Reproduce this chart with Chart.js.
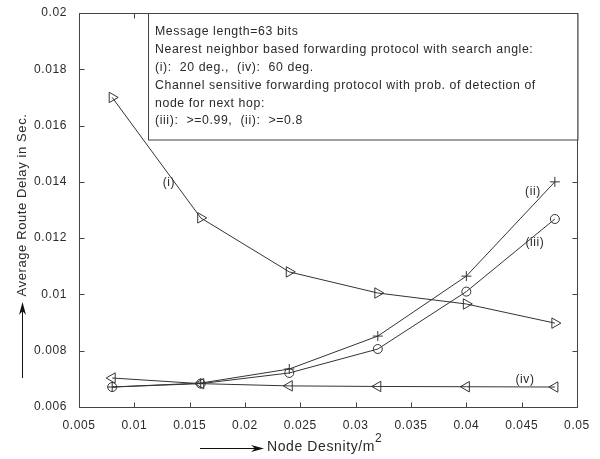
<!DOCTYPE html>
<html><head><meta charset="utf-8">
<script src="https://cdn.jsdelivr.net/npm/chart.js@4.4.0/dist/chart.umd.min.js"></script>
<style>html,body{margin:0;padding:0;background:#fff}canvas{display:block}</style>
</head><body>
<canvas id="c" width="600" height="459"></canvas>
<script>
// ---- data ----
const nodeDensity = [0.008, 0.016, 0.024, 0.032, 0.040, 0.048];
const delayNearest20 = [0.0170, 0.01272, 0.0108, 0.01005, 0.00966, 0.00898];   // (i)
const delayChannel08 = [0.00671, 0.00685, 0.00735, 0.00852, 0.01065, 0.01400]; // (ii)
const delayChannel099 = [0.00671, 0.00683, 0.00721, 0.00806, 0.01010, 0.01268]; // (iii)
const delayNearest60 = [0.00703, 0.00683, 0.00675, 0.00673, 0.00672, 0.00671]; // (iv)
const yTickLabels = ['0.006','0.008','0.01','0.012','0.014','0.016','0.018','0.02'];
const xTickLabels = ['0.005','0.01','0.015','0.02','0.025','0.03','0.035','0.04','0.045','0.05'];
const legendLines = [
  'Message length=63 bits',
  'Nearest neighbor based forwarding protocol with search angle:',
  '(i):  20 deg.,  (iv):  60 deg.',
  'Channel sensitive forwarding protocol with prob. of detection of',
  'node for next hop:',
  '(iii):  >=0.99,  (ii):  >=0.8'
];
const seriesTags = ['(i)', '(ii)', '(iii)', '(iv)'];
const tagAnchors = [[0.01313, 0.01396], [0.04602, 0.01364], [0.0462, 0.01183], [0.0453, 0.00696]];

const FONT = '"Liberation Sans", Arial, sans-serif';
const INK = '#2a2a2a';
const LINE = '#333';

function pts(ys){ return nodeDensity.map((x,i)=>({x:x, y:ys[i]})); }

const spacing = {
  id:'spacing',
  beforeDraw(chart){ chart.ctx.letterSpacing = '0.6px'; },
  beforeLayout(chart){ chart.ctx.letterSpacing = '0.6px'; }
};

const decor = {
  id:'decor',
  afterDatasetsDraw(chart){
    const ctx = chart.ctx, a = chart.chartArea, xs = chart.scales.x, ys = chart.scales.y;
    ctx.save();
    ctx.letterSpacing = '0.6px';
    // frame
    ctx.strokeStyle = '#444'; ctx.lineWidth = 1;
    const L = Math.round(a.left)+0.5, R = Math.round(a.right)+0.5, T = Math.round(a.top)+0.5, B = Math.round(a.bottom)+0.5;
    ctx.strokeRect(L, T, R-L, B-T);
    // inward ticks
    ctx.beginPath();
    xTickLabels.forEach(t=>{
      const p = Math.round(xs.getPixelForValue(parseFloat(t)))+0.5;
      ctx.moveTo(p, B); ctx.lineTo(p, B-5);
      ctx.moveTo(p, T); ctx.lineTo(p, T+5);
    });
    yTickLabels.forEach(t=>{
      const p = Math.round(ys.getPixelForValue(parseFloat(t)))+0.5;
      ctx.moveTo(L, p); ctx.lineTo(L+5, p);
      ctx.moveTo(R, p); ctx.lineTo(R-5, p);
    });
    ctx.stroke();
    // series tags
    ctx.fillStyle = INK; ctx.font = '12px ' + FONT; ctx.textAlign = 'center'; ctx.textBaseline = 'middle';
    seriesTags.forEach((t,i)=>{
      ctx.fillText(t, xs.getPixelForValue(tagAnchors[i][0]), ys.getPixelForValue(tagAnchors[i][1]));
    });
    // legend box
    const bx = 148, by = T, bw = R - 148, bh = 140 - by;
    ctx.fillStyle = '#fff'; ctx.fillRect(bx, by, bw, bh);
    ctx.strokeStyle = '#444'; ctx.strokeRect(bx+0.5, by, bw, bh);
    ctx.fillStyle = INK; ctx.textAlign = 'left';
    ctx.font = '12.3px ' + FONT;
    legendLines.forEach((s,i)=>{ ctx.fillText(s, 155, 32 + i*17.8); });
    // y title with arrow
    ctx.save();
    ctx.translate(22, 205); ctx.rotate(-Math.PI/2);
    ctx.font = '13px ' + FONT; ctx.textAlign='center';
    ctx.fillText('Average Route Delay in Sec.', 0, 0);
    ctx.restore();
    ctx.strokeStyle = '#111'; ctx.fillStyle = '#111';
    ctx.beginPath(); ctx.moveTo(22.5, 378); ctx.lineTo(22.5, 310); ctx.stroke();
    ctx.beginPath(); ctx.moveTo(22.5, 302); ctx.lineTo(26, 315); ctx.lineTo(22.5, 311); ctx.lineTo(19, 315); ctx.closePath(); ctx.fill();
    // x title with arrow
    ctx.beginPath(); ctx.moveTo(200, 448.5); ctx.lineTo(256, 448.5); ctx.stroke();
    ctx.beginPath(); ctx.moveTo(264, 448.5); ctx.lineTo(251, 452); ctx.lineTo(255, 448.5); ctx.lineTo(251, 445); ctx.closePath(); ctx.fill();
    ctx.fillStyle = INK; ctx.font = '14px ' + FONT; ctx.textAlign='left';
    ctx.fillText('Node Desnity/m', 267, 447);
    ctx.font = '12px ' + FONT;
    ctx.fillText('2', 375, 439);
    ctx.restore();
  }
};

function ds(ys, style, rot, r){
  return { data: pts(ys), borderColor: LINE, borderWidth: 1, pointStyle: style, pointRotation: rot,
           pointRadius: r, pointBorderColor: LINE, pointBackgroundColor: 'rgba(0,0,0,0)', pointBorderWidth: 1,
           tension: 0, fill: false };
}

new Chart(document.getElementById('c'), {
  type: 'line',
  data: { datasets: [
    ds(delayNearest20, 'triangle', 90, 6),
    ds(delayChannel08, 'cross', 0, 5),
    ds(delayChannel099, 'circle', 0, 4.5),
    ds(delayNearest60, 'triangle', -90, 6)
  ]},
  options: {
    responsive: false, animation: false, devicePixelRatio: 1,
    layout: { padding: { top: 13, right: 23, left: 0, bottom: 0 } },
    plugins: { legend: { display: false }, tooltip: { enabled: false } },
    scales: {
      x: { type: 'linear', min: 0.005, max: 0.05,
           afterFit(s){ s.height = 459 - 13 - 394; },
           afterBuildTicks(s){ s.ticks = xTickLabels.map(t=>({value: parseFloat(t)})); },
           grid: { display: false }, border: { display: false },
           ticks: { color: INK, font: { family: FONT, size: 12 }, padding: 3, maxRotation: 0, autoSkip: false,
                    callback: (v,i)=>xTickLabels[i] } },
      y: { type: 'linear', min: 0.006, max: 0.02,
           afterFit(s){ s.width = 79; },
           afterBuildTicks(s){ s.ticks = yTickLabels.map(t=>({value: parseFloat(t)})); },
           grid: { display: false }, border: { display: false },
           ticks: { color: INK, font: { family: FONT, size: 12 }, padding: 4, autoSkip: false,
                    callback: (v,i)=>yTickLabels[i] } }
    }
  },
  plugins: [spacing, decor]
});
</script>
</body></html>
